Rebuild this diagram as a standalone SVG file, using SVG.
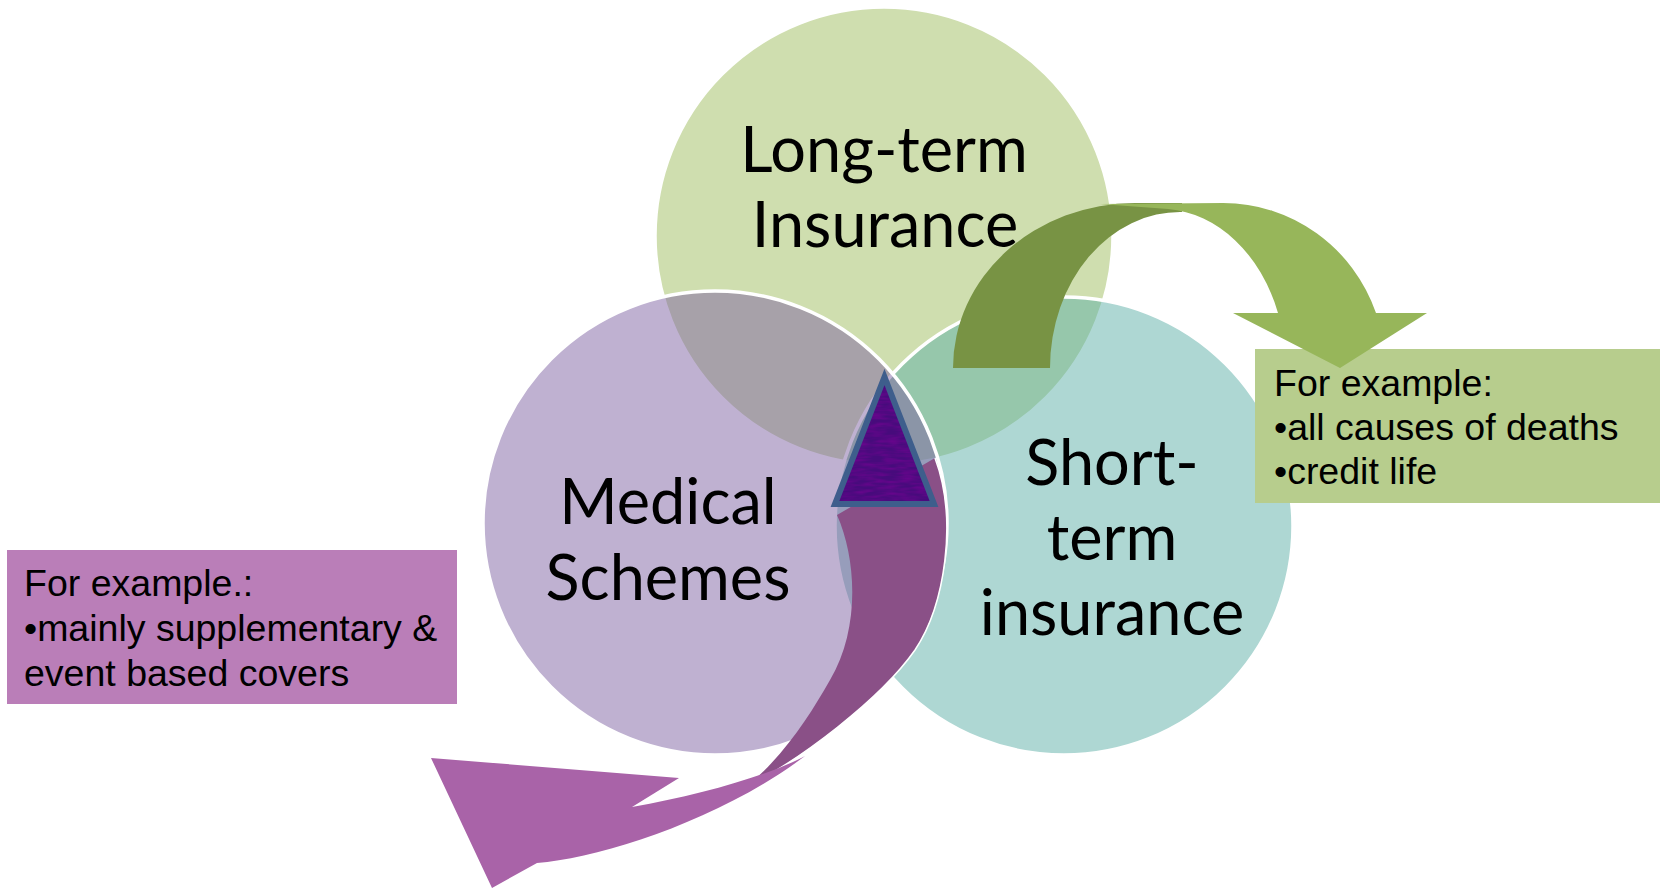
<svg xmlns="http://www.w3.org/2000/svg" width="1662" height="889" viewBox="0 0 1662 889">
  <style>
    .venn { stroke: #ffffff; stroke-width: 3.5; }
    .label { font-family: Lato, "Open Sans", sans-serif; font-size: 63px; fill: #000000; text-anchor: middle; }
    .note { font-family: "Liberation Sans", Arial, sans-serif; font-size: 37.5px; fill: #000000; }
  </style>
  <defs>
    <filter id="grain" filterUnits="objectBoundingBox" x="0" y="0" width="1" height="1">
      <feTurbulence type="fractalNoise" baseFrequency="0.06 0.3" numOctaves="2" seed="7" result="noise"/>
      <feColorMatrix in="noise" type="matrix" values="0 0 0 0 0.22  0 0 0 0 0  0 0 0 0 0.32  0 0 0 1 -0.3" result="tint"/>
      <feComposite in="tint" in2="SourceAlpha" operator="in"/>
    </filter>
  </defs>

  <rect width="1662" height="889" fill="#ffffff"/>

  <!-- Venn circles: translucent fills, white rims -->
  <g id="node-long-term">
    <circle class="venn" cx="884" cy="236" r="229" fill="#9FBD5F" fill-opacity="0.5"/>
    <text class="label" x="884" y="172">Long-term</text>
    <text class="label" x="885" y="247">Insurance</text>
  </g>
  <g id="node-short-term">
    <circle class="venn" cx="1064" cy="526" r="229" fill="#5DAFA7" fill-opacity="0.5"/>
    <text class="label" x="1112" y="485">Short-</text>
    <text class="label" x="1112" y="560">term</text>
    <text class="label" x="1112" y="635">insurance</text>
  </g>
  <g id="node-medical">
    <circle class="venn" cx="715" cy="523" r="232" fill="#7F63A3" fill-opacity="0.5"/>
    <text class="label" x="668" y="524">Medical</text>
    <text class="label" x="668" y="600">Schemes</text>
  </g>

  <!-- Example call-outs -->
  <g id="box-long-term-examples">
    <rect x="1255" y="349" width="405" height="154" fill="#B7CD8D"/>
    <text class="note" x="1274" y="396">For example:</text>
    <text class="note" x="1274" y="440">•all causes of deaths</text>
    <text class="note" x="1274" y="484">•credit life</text>
  </g>
  <g id="box-medical-examples">
    <rect x="7" y="550" width="450" height="154" fill="#BA7EB8"/>
    <text class="note" x="24" y="596">For example.:</text>
    <text class="note" x="24" y="641">•mainly supplementary &amp;</text>
    <text class="note" x="24" y="686">event based covers</text>
  </g>

  <!-- Curved arrows -->
  <g id="connectors">
    <!-- green arch: back band then front band with head -->
    <path d="M953,368 A182,165 0 0 1 1135,203 L1182,203 L1182,212 A130,156 0 0 0 1050,368 Z" fill="#789344"/>
    <path d="M1100,204 L1223,203 A162,165 0 0 1 1376,313 L1427,313 L1340,368 L1233,313 L1278,313 A126,159 0 0 0 1168,209 Z" fill="#97B65A"/>
    <!-- purple sweep: back band then front band with head -->
    <path d="M837,515 C857,560 860,630 830,680 C810,715 785,755 745,788 C800,760 880,700 915,650 C945,605 958,520 935,458 Z" fill="#8A5087"/>
    <path d="M745,788 C800,760 880,700 915,650 C945,605 958,520 935,458" fill="none" stroke="#ffffff" stroke-width="1.5"/>
    <path d="M632,807 L679,778 L431,758 L492,888 L537,863 C600,858 720,820 805,756 C770,775 700,795 632,807 Z" fill="#A963A8"/>
  </g>

  <!-- Central marker where the three circles meet -->
  <g id="node-centre-marker">
    <path d="M884.5,377 L934,504 L835,504 Z" fill="#470B7C"/>
    <path d="M884.5,377 L934,504 L835,504 Z" fill="#000000" filter="url(#grain)"/>
    <path d="M884.5,377 L934,504 L835,504 Z" fill="none" stroke="#3E5E8C" stroke-width="6" stroke-linejoin="miter"/>
  </g>
</svg>
